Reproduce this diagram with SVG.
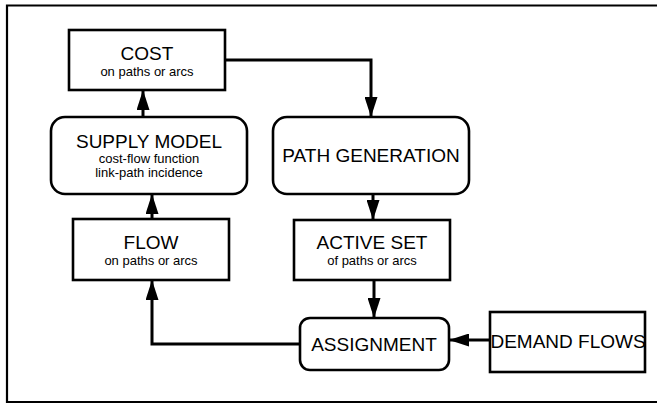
<svg xmlns="http://www.w3.org/2000/svg" width="657" height="404" viewBox="0 0 657 404">
<style>
.box{fill:#fff;stroke:#000;stroke-width:2.6}
.ln{fill:none;stroke:#000;stroke-width:3}
.t{font-family:"Liberation Sans",Arial,sans-serif;font-size:19px;text-anchor:middle;fill:#000}
.s{font-family:"Liberation Sans",Arial,sans-serif;font-size:13px;text-anchor:middle;fill:#000}
</style>
<defs>
<marker id="ah" viewBox="0 0 20 13" refX="20" refY="6.5" markerWidth="20" markerHeight="13" markerUnits="userSpaceOnUse" orient="auto">
<path d="M0,0 L20,6.5 L0,13 Z" fill="#000"/>
</marker>
</defs>
<rect width="657" height="404" fill="#fff"/>
<path d="M660,5.5 H7 V402 H660" fill="none" stroke="#000" stroke-width="2.2"/>
<g id="connectors">
<path class="ln" d="M225,60 H371 V117" marker-end="url(#ah)"/>
<path class="ln" d="M143,117 V90" marker-end="url(#ah)"/>
<path class="ln" d="M152,219 V194" marker-end="url(#ah)"/>
<path class="ln" d="M373,194 V220" marker-end="url(#ah)"/>
<path class="ln" d="M374,280 V318" marker-end="url(#ah)"/>
<path class="ln" d="M300,344 H152 V280" marker-end="url(#ah)"/>
<path class="ln" d="M490,340 H449" stroke-width="4.5" marker-end="url(#ah)"/>
</g>
<g id="cost">
<rect class="box" x="69" y="30" width="156" height="60"/>
<text class="t" x="147" y="60">COST</text>
<text class="s" x="147" y="76">on paths or arcs</text>
</g>
<g id="supply">
<rect class="box" x="51" y="117" width="196" height="77" rx="14"/>
<text class="t" x="149" y="148">SUPPLY MODEL</text>
<text class="s" x="149" y="163">cost-flow function</text>
<text class="s" x="149" y="177">link-path incidence</text>
</g>
<g id="pathgen">
<rect class="box" x="273" y="117" width="196" height="77" rx="14"/>
<text class="t" x="371" y="162">PATH GENERATION</text>
</g>
<g id="flow">
<rect class="box" x="73" y="219" width="156" height="61"/>
<text class="t" x="151" y="249">FLOW</text>
<text class="s" x="151" y="265">on paths or arcs</text>
</g>
<g id="active">
<rect class="box" x="294" y="220" width="156" height="60"/>
<text class="t" x="372" y="249">ACTIVE SET</text>
<text class="s" x="372" y="265">of paths or arcs</text>
</g>
<g id="assignment">
<rect class="box" x="300" y="318" width="149" height="52" rx="10"/>
<text class="t" x="374" y="351">ASSIGNMENT</text>
</g>
<g id="demand">
<rect class="box" x="490" y="312" width="155" height="60"/>
<text class="t" x="568" y="348">DEMAND FLOWS</text>
</g>
</svg>
